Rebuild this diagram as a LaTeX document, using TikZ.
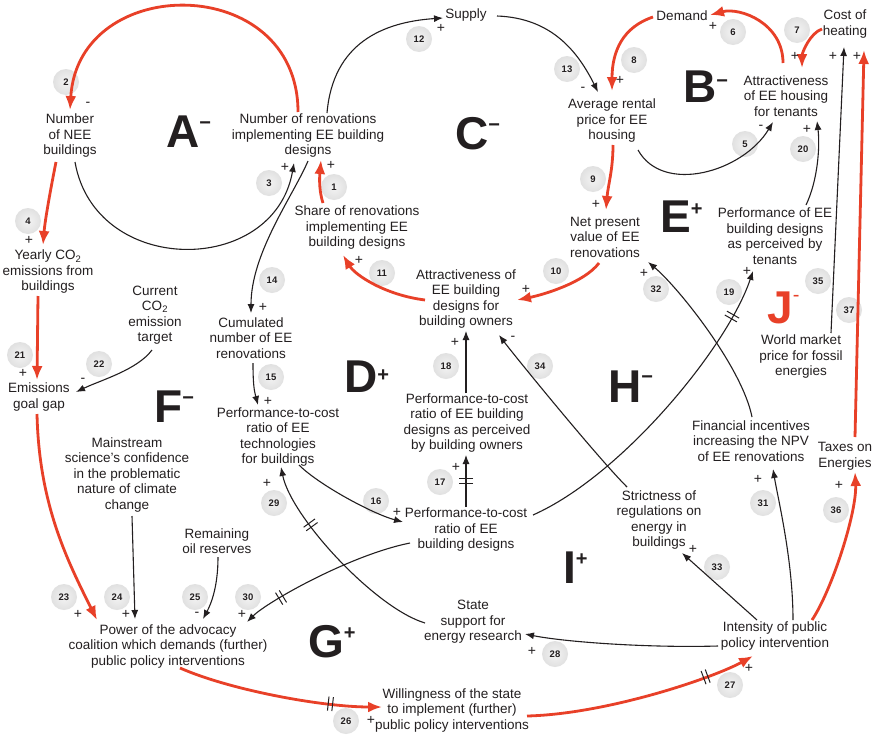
\documentclass[tikz,border=0pt]{standalone}
\usepackage{fontspec}
\setmainfont{Liberation Sans}
\usetikzlibrary{arrows.meta,calc,decorations.markings}
\definecolor{loopred}{RGB}{232,64,40}
\definecolor{ink}{RGB}{35,31,32}
\newcommand\loopsup[2][18pt]{\raisebox{#1}{\fontsize{20}{20}\selectfont #2}}

\begin{document}
\begin{tikzpicture}[x=1pt,y=-1pt,
		factorbox/.style={align=center,inner sep=1pt,text=ink,font=\fontsize{13.5}{15.5}\selectfont},
		badge/.style={circle,minimum size=26pt,inner sep=0pt,inner color=gray!9,outer color=gray!24,text=ink,font=\bfseries\fontsize{9.5}{10}\selectfont},
		polarity/.style={inner sep=0pt,text=ink,font=\fontsize{14}{14}\selectfont},
		looplbl/.style={anchor=base west,inner sep=0pt,text=ink,font=\bfseries\fontsize{46}{46}\selectfont},
		blacklink/.style={draw=ink,line width=1.1pt,-{Latex[length=9pt,width=7pt]}},
		redlink/.style={draw=loopred,line width=2.8pt,-{Latex[length=14pt,width=11pt]}},
		hashmark/.style={postaction={decorate},decoration={markings,mark=at position #1 with {\draw[-,draw=ink,line width=1pt] (-2.2pt,-7pt) -- (-2.2pt,7pt) (2.2pt,-7pt) -- (2.2pt,7pt);}}}]
		\fill[white] (0,0) rectangle (874,736);
		\useasboundingbox (0,0) rectangle (874,736);
		% numbered badges
		\foreach \n/\x/\y in {1/334/187, 2/66/82, 3/269/183, 4/28/221, 5/745/144, 6/733/32, 7/797/30, 8/634/60, 9/593/179, 10/556/271, 11/382/273, 12/419/39, 13/567/69, 14/272/280, 15/271/377, 16/376/501, 17/440/482, 18/446/366, 19/729/292, 20/803/149, 21/20/355, 22/99/364, 23/64/597, 24/117/597, 25/195/597, 26/346/721, 27/730/685, 28/555/654, 29/274/503, 30/248/597, 31/763/503, 32/656/289, 33/717/567, 34/540/366, 35/818/281, 36/836/510, 37/849/310}
		\node[badge] (b\n) at (\x,\y) {\n};
		% variables
		\node[factorbox] (nee) at (70,136) {Number\\of NEE\\buildings};
		\node[factorbox] (nren) at (308,136) {Number of renovations\\implementing EE building\\designs};
		\node[factorbox] (supply) at (466,15) {Supply};
		\node[factorbox] (demand) at (682,16) {Demand};
		\node[factorbox] (cost) at (845,24) {Cost of\\heating};
		\node[factorbox] (attrten) at (786,96) {Attractiveness\\of EE housing\\for tenants};
		\node[factorbox] (rent) at (612,121) {Average rental\\price for EE\\housing};
		\node[factorbox] (npv) at (605,237) {Net present\\value of EE\\renovations};
		\node[factorbox] (share) at (357,228) {Share of renovations\\implementing EE\\building designs};
		\node[factorbox] (attrown) at (466,299) {Attractiveness of\\EE building\\designs for\\building owners};
		\node[factorbox] (cumul) at (251,338) {Cumulated\\number of EE\\renovations};
		\node[factorbox] (yearly) at (48,272) {Yearly CO\textsubscript{2}\\emissions from\\buildings};
		\node[factorbox] (target) at (155,315) {Current\\CO\textsubscript{2}\\emission\\target};
		\node[factorbox] (gap) at (39,397) {Emissions\\goal gap};
		\node[factorbox] (perftech) at (278,437) {Performance-to-cost\\ratio of EE\\technologies\\for buildings};
		\node[factorbox] (perfown) at (467,423) {Performance-to-cost\\ratio of EE building\\designs as perceived\\by building owners};
		\node[factorbox] (perfdes) at (466,530) {Performance-to-cost\\ratio of EE\\building designs};
		\node[factorbox] (science) at (127,475) {Mainstream\\science's confidence\\in the problematic\\nature of climate\\change};
		\node[factorbox] (oil) at (217,541) {Remaining\\oil reserves};
		\node[factorbox] (power) at (168,646) {Power of the advocacy\\coalition which demands (further)\\public policy interventions};
		\node[factorbox] (will) at (452,710) {Willingness of the state\\to implement (further)\\public policy interventions};
		\node[factorbox] (research) at (473,622) {State\\support for\\energy research};
		\node[factorbox] (intens) at (775,636) {Intensity of public\\policy intervention};
		\node[factorbox] (strict) at (659,520) {Strictness of\\regulations on\\energy in\\buildings};
		\node[factorbox] (incent) at (751,441) {Financial incentives\\increasing the NPV\\of EE renovations};
		\node[factorbox] (taxes) at (845,456) {Taxes on\\Energies};
		\node[factorbox] (world) at (801,357) {World market\\price for fossil\\energies};
		\node[factorbox] (perften) at (775,236) {Performance of EE\\building designs\\as perceived by\\tenants};
		% loop names
		\node[looplbl] (lA) at (166,147) {A\loopsup{−}};
		\node[looplbl] (lB) at (683,102) {B\loopsup[15pt]{−}};
		\node[looplbl] (lC) at (455,149) {C\loopsup{−}};
		\node[looplbl] (lD) at (344,392) {D\loopsup[11pt]{+}};
		\node[looplbl] (lE) at (660,232) {E\loopsup[17pt]{+}};
		\node[looplbl] (lF) at (154,422) {F\loopsup{−}};
		\node[looplbl] (lG) at (308,657) {G\loopsup{+}};
		\node[looplbl] (lH) at (608,402) {H\loopsup[19pt]{−}};
		\node[looplbl] (lI) at (563,583) {I\loopsup{+}};
		\node[looplbl,text=loopred] (lJ) at (767,323) {J\loopsup[22pt]{\mdseries -}};
		% red links
		\draw[redlink] ($(share)+(-34,-25)$) .. controls +(-5,-15) and +(-1,12) .. ($(nren)+(13,24)$);
		\draw[redlink] ($(nren)+(-10,-24)$) .. controls +(0,-140) and +(8,-138) .. ($(nee)+(0,-26)$);
		\draw[redlink] ($(nee)+(-14,26)$) .. controls +(-5,25) and +(2,-25) .. ($(yearly)+(-5,-27)$);
		\draw[redlink] ($(yearly)+(-10,24)$) -- ($(gap)+(-2,-17)$);
		\draw[redlink] ($(gap)+(-2,17)$) .. controls +(2,90) and +(-30,-60) .. ($(power)+(-71,-26)$);
		\draw[redlink,hashmark=0.75] ($(power)+(12,22)$) .. controls +(50,22) and +(-60,0) .. ($(will)+(-70,-3)$);
		\draw[redlink,hashmark=0.78] ($(will)+(75,6)$) .. controls +(80,-2) and +(-40,22) .. ($(intens)+(-22,20)$);
		\draw[redlink] ($(intens)+(37,-16)$) .. controls +(20,-30) and +(2,40) .. ($(taxes)+(10,16)$);
		\draw[redlink] ($(taxes)+(10,-19)$) -- ($(cost)+(19,26)$);
		\draw[redlink] ($(cost)+(-23,5)$) .. controls +(-12,4) and +(0,-15) .. ($(attrten)+(16,-28)$);
		\draw[redlink] ($(attrten)+(-3,-33)$) .. controls +(0,-40) and +(30,-8) .. ($(demand)+(28,-1)$);
		\draw[redlink] ($(demand)+(-29,1)$) .. controls +(-30,10) and +(0,-40) .. ($(rent)+(0,-30)$);
		\draw[redlink] ($(rent)+(1,24)$) .. controls +(0,25) and +(2,-25) .. ($(npv)+(1,-27)$);
		\draw[redlink] ($(npv)+(-6,26)$) .. controls +(-15,20) and +(25,-5) .. ($(attrown)+(51,1)$);
		\draw[redlink] ($(attrown)+(-41,1)$) .. controls +(-40,-5) and +(12,20) .. ($(share)+(-14,27)$);
		% black links
		\draw[blacklink] ($(nee)+(5,26)$) .. controls +(20,115) and +(-20,114) .. ($(nren)+(-14,27)$);
		\draw[blacklink] ($(nren)+(19,-23)$) .. controls +(6,-70) and +(-60,4) .. ($(supply)+(-23,3)$);
		\draw[blacklink] ($(supply)+(31,1)$) .. controls +(55,2) and +(-20,-40) .. ($(rent)+(-14,-29)$);
		\draw[blacklink] ($(rent)+(26,29)$) .. controls +(25,45) and +(-30,50) .. ($(attrten)+(-13,26)$);
		\draw[blacklink] ($(perften)+(31,-31)$) .. controls +(12,-25) and +(3,25) .. ($(attrten)+(31,25)$);
		\draw[blacklink] ($(nren)+(0,25)$) .. controls +(-15,35) and +(0,-60) .. ($(cumul)+(0,-25)$);
		\draw[blacklink] ($(cumul)+(2,25)$) .. controls +(0,20) and +(-4,-15) .. ($(perftech)+(-20,-32)$);
		\draw[blacklink] ($(target)+(-3,35)$) .. controls +(-15,20) and +(25,-12) .. ($(gap)+(37,-5)$);
		\draw[blacklink] ($(perftech)+(21,28)$) .. controls +(20,20) and +(-30,-8) .. ($(perfdes)+(-63,-8)$);
		\draw[blacklink,hashmark=0.5] ($(perfdes)+(0,-23)$) -- ($(perfown)+(-1,32)$);
		\draw[blacklink] ($(perfown)+(-1,-30)$) -- ($(attrown)+(0,32)$);
		\draw[blacklink] ($(science)+(5,41)$) -- ($(power)+(-33,-27)$);
		\draw[blacklink] ($(oil)+(1,16)$) .. controls +(0,30) and +(8,-15) .. ($(power)+(35,-27)$);
		\draw[blacklink,hashmark=0.77] ($(perfdes)+(-56,13)$) .. controls +(-60,12) and +(20,-20) .. ($(power)+(79,-24)$);
		\draw[blacklink,hashmark=0.7] ($(research)+(-48,1)$) .. controls +(-50,-15) and +(10,50) .. ($(perftech)+(3,30)$);
		\draw[blacklink] ($(intens)+(-57,10)$) .. controls +(-70,2) and +(40,8) .. ($(research)+(52,12)$);
		\draw[blacklink] ($(intens)+(-18,-16)$) -- ($(strict)+(23,33)$);
		\draw[blacklink] ($(intens)+(18,-16)$) .. controls +(0,-60) and +(5,30) .. ($(incent)+(22,28)$);
		\draw[blacklink] ($(incent)+(1,-24)$) .. controls +(-10,-50) and +(30,25) .. ($(npv)+(43,25)$);
		\draw[blacklink,hashmark=0.85] ($(perfdes)+(67,-15)$) .. controls +(90,-40) and +(-25,75) .. ($(perften)+(-22,35)$);
		\draw[blacklink] ($(strict)+(-32,-33)$) .. controls +(-30,-30) and +(15,20) .. ($(attrown)+(33,36)$);
		\draw[blacklink] ($(world)+(30,-24)$) -- ($(cost)+(-1,23)$);
		% polarities
		\foreach \n/\x/\y/\s in {1/331/165/+, 2/88/104/-, 3/285/167/+, 4/29/240/+, 5/761/127/-, 6/713/26/+, 7/795/56/+, 8/620/80/+, 9/596/204/+, 10/526/289/+, 11/359/260/+, 12/441/28/+, 13/583/89/-, 14/263/307/+, 15/268/401/+, 16/397/512/+, 17/456/467/+, 18/455/342/+, 19/747/271/+, 20/807/129/+, 21/23/373/+, 22/83/380/-, 23/78/614/+, 24/126/614/+, 25/197/614/-, 26/371/720/+, 27/749/668/+, 28/532/651/+, 29/267/483/+, 30/242/614/+, 31/758/479/+, 32/644/273/+, 33/693/549/+, 34/513/338/-, 35/833/56/+, 36/839/485/+, 37/857/56/+}
		\node[polarity] (s\n) at (\x,\y) {\s};
	\end{tikzpicture}
\end{document}
